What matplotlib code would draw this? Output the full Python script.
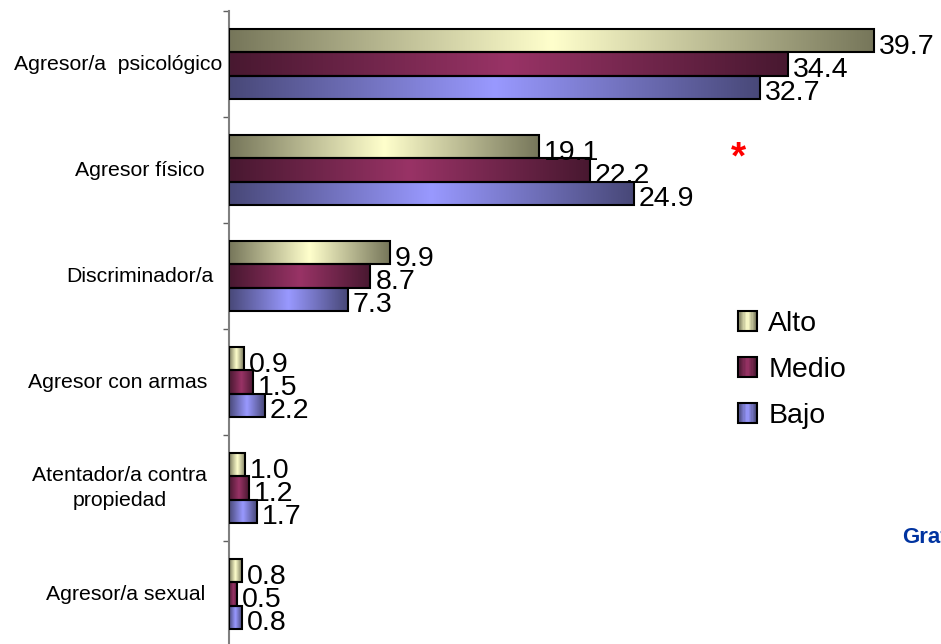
import numpy as np
import matplotlib
matplotlib.use("Agg")
import matplotlib.pyplot as plt
import matplotlib.transforms as mtransforms
from matplotlib.patches import Rectangle
from matplotlib.legend_handler import HandlerBase
from matplotlib.colors import to_rgb

# ---------------- data ----------------
categories = ["Agresor/a  psicológico", "Agresor físico", "Discriminador/a",
              "Agresor con armas", "Atentador/a contra\npropiedad", "Agresor/a sexual"]
series_names = ["Alto", "Medio", "Bajo"]
alto = [39.7, 19.1, 9.9, 0.9, 1.0, 0.8]
medio = [34.4, 22.2, 8.7, 1.5, 1.2, 0.5]
bajo = [32.7, 24.9, 7.3, 2.2, 1.7, 0.8]

# ---------------- style ----------------
light_cols = ["#FFFFCC", "#993366", "#9999FF"]
dark_cols = ["#76765A", "#481830", "#484878"]
label_right_px = [7, 24, 16, 22, 22, 24]   # gap between label right edge and axis

plt.rcParams["font.family"] = ["Liberation Sans", "DejaVu Sans"]

W, H = 941, 644
fig = plt.figure(figsize=(W / 100, H / 100), dpi=100)
ax = fig.add_axes([229 / W, -3 / H, 712 / W, 636 / H])

n = len(categories)
y = np.arange(n)
bar_h = 0.22
offsets = [-0.22, 0.0, 0.22]
values = [alto, medio, bajo]


def grad_img(dark, light, npts=256):
    d = np.array(to_rgb(dark))
    l = np.array(to_rgb(light))
    t = np.linspace(0, 1, npts)
    w = 1 - np.abs(2 * t - 1)
    return (d[None, :] + (l - d)[None, :] * w[:, None])[None, :, :]


handles = []
for vals, off, lc, dc, name in zip(values, offsets, light_cols, dark_cols, series_names):
    bars = ax.barh(y + off, vals, height=bar_h, facecolor="none",
                   edgecolor="black", linewidth=1.5, zorder=3, label=name)
    img = grad_img(dc, lc)
    for p in bars.patches:
        x0, y0, w, h = p.get_x(), p.get_y(), p.get_width(), p.get_height()
        ax.imshow(img, extent=[x0, x0 + w, y0 + h, y0], aspect="auto",
                  interpolation="bilinear", zorder=2)
    for v, yy in zip(vals, y + off):
        ax.annotate(f"{v:.1f}", xy=(v, yy), xytext=(5, -13), textcoords="offset pixels",
                    ha="left", va="baseline", fontsize=20.5, color="black", zorder=4)
    handles.append(Rectangle((0, 0), 1, 1, label=name))

ax.set_xlim(0, 712 / 16.25)
ax.set_ylim(n - 0.5, -0.5)

for s in ["top", "right", "bottom"]:
    ax.spines[s].set_visible(False)
ax.spines["left"].set_color("#808080")
ax.spines["left"].set_linewidth(1.5)
ax.set_xticks([])
ax.set_yticks(np.arange(n + 1) - 0.5)
ax.set_yticklabels([])
ax.tick_params(axis="y", direction="out", length=4.5, width=1.0, color="#606060")

for i, (cat, gap) in enumerate(zip(categories, label_right_px)):
    tr = mtransforms.offset_copy(ax.get_yaxis_transform(), fig=fig, x=-gap, y=0, units="dots")
    ax.text(0, i, cat, transform=tr, ha="right", va="center", multialignment="center",
            fontsize=15.3, linespacing=1.35, color="black")


class GradientHandler(HandlerBase):
    def __init__(self, dark, light):
        super().__init__()
        self.dark = np.array(to_rgb(dark))
        self.light = np.array(to_rgb(light))

    def create_artists(self, legend, orig_handle, xdescent, ydescent, width, height,
                       fontsize, trans):
        arts = []
        k = 14
        for i in range(k):
            t = (i + 0.5) / k
            w = 1 - abs(2 * t - 1)
            c = self.dark + (self.light - self.dark) * w
            arts.append(Rectangle((-xdescent + i * width / k, -ydescent), width / k + 0.05,
                                  height, facecolor=c, edgecolor="none", transform=trans))
        arts.append(Rectangle((-xdescent, -ydescent), width, height, facecolor="none",
                              edgecolor="black", linewidth=1.5, transform=trans))
        return arts


hmap = {h: GradientHandler(d, l) for h, d, l in zip(handles, dark_cols, light_cols)}
fig.legend(handles=handles, handler_map=hmap, loc="center left",
           bbox_to_anchor=(738 / W, 1 - 370 / H), frameon=False, fontsize=20.5,
           handlelength=0.66, handleheight=0.66, handletextpad=0.4, labelspacing=0.7,
           borderpad=0, borderaxespad=0)

fig.text(738 / W, 1 - 158 / H, "*", color="red", fontsize=28, fontweight="bold",
         ha="center", va="center")
fig.text(902 / W, 1 - 543 / H, "Grafico", color="#0033A0", fontsize=16, fontweight="bold",
         ha="left", va="baseline")

fig.savefig("out.png", dpi=100)
